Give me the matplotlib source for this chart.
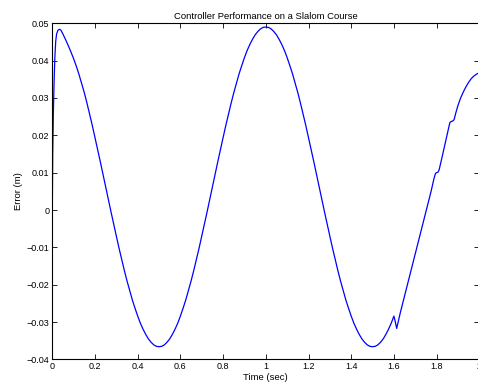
import matplotlib
matplotlib.use("Agg")
import matplotlib.pyplot as plt
from matplotlib.ticker import FixedLocator, FuncFormatter

plt.rcParams['font.family'] = ['Liberation Sans', 'DejaVu Sans']

# values
time_s = [
    # start-up transient
    0.000, 0.002, 0.005, 0.008, 0.012, 0.016, 0.020, 0.026, 0.033, 0.040, 0.050,
    # first descent
    0.0625, 0.0750, 0.0875, 0.1000, 0.1125, 0.1250, 0.1375,
    0.1500, 0.1625, 0.1750, 0.1875, 0.2000, 0.2125, 0.2250, 0.2375, 0.2500, 0.2625,
    0.2750, 0.2875, 0.3000, 0.3125, 0.3250, 0.3375, 0.3500, 0.3625, 0.3750, 0.3875,
    0.4000, 0.4125, 0.4250, 0.4375, 0.4500, 0.4625, 0.4750, 0.4875, 0.5000,
    # rise to second peak
    0.5125, 0.5250, 0.5375, 0.5500, 0.5625, 0.5750, 0.5875, 0.6000, 0.6125, 0.6250,
    0.6375, 0.6500, 0.6625, 0.6750, 0.6875, 0.7000, 0.7125, 0.7250, 0.7375, 0.7500,
    0.7625, 0.7750, 0.7875, 0.8000, 0.8125, 0.8250, 0.8375, 0.8500, 0.8625, 0.8750,
    0.8875, 0.9000, 0.9125, 0.9250, 0.9375, 0.9500, 0.9625, 0.9750, 0.9875, 1.0000,
    # second descent
    1.0125, 1.0250, 1.0375, 1.0500, 1.0625, 1.0750, 1.0875, 1.1000, 1.1125, 1.1250,
    1.1375, 1.1500, 1.1625, 1.1750, 1.1875, 1.2000, 1.2125, 1.2250, 1.2375, 1.2500,
    1.2625, 1.2750, 1.2875, 1.3000, 1.3125, 1.3250, 1.3375, 1.3500, 1.3625, 1.3750,
    1.3875, 1.4000, 1.4125, 1.4250, 1.4375, 1.4500, 1.4625, 1.4750, 1.4875, 1.5000,
    # final rise with disturbances
    1.5125, 1.5250, 1.5375, 1.5500, 1.5625, 1.5750, 1.5875, 1.6000, 1.6060, 1.6130,
    1.6200, 1.6300, 1.6500, 1.6750, 1.7000, 1.7250, 1.7500, 1.7750, 1.7880, 1.7950,
    1.8000, 1.8060, 1.8120, 1.8250, 1.8500, 1.8620, 1.8680, 1.8750, 1.8820, 1.8900,
    1.9000, 1.9125, 1.9250, 1.9375, 1.9500, 1.9625, 1.9750, 1.9875, 2.0000,
]
error_m = [
    0.0000, 0.0150, 0.0260, 0.0335, 0.0410, 0.0452, 0.0471, 0.0481, 0.0484, 0.0482, 0.0471,
    0.0456, 0.0440, 0.0423, 0.0405, 0.0385, 0.0363, 0.0339,
    0.0314, 0.0286, 0.0256, 0.0226, 0.0194, 0.0162, 0.0129, 0.0096, 0.0062, 0.0028,
    -0.0005, -0.0038, -0.0070, -0.0102, -0.0132, -0.0162, -0.0190, -0.0216, -0.0241, -0.0263,
    -0.0284, -0.0303, -0.0319, -0.0333, -0.0345, -0.0354, -0.0361, -0.0365, -0.0366,
    -0.0365, -0.0361, -0.0354, -0.0345, -0.0333, -0.0319, -0.0303, -0.0284, -0.0263, -0.0241,
    -0.0216, -0.0190, -0.0162, -0.0132, -0.0102, -0.0070, -0.0038, -0.0005, 0.0028, 0.0062,
    0.0096, 0.0129, 0.0162, 0.0194, 0.0226, 0.0256, 0.0286, 0.0314, 0.0340, 0.0365,
    0.0387, 0.0408, 0.0427, 0.0443, 0.0457, 0.0469, 0.0478, 0.0485, 0.0489, 0.0490,
    0.0489, 0.0485, 0.0478, 0.0469, 0.0457, 0.0443, 0.0427, 0.0408, 0.0387, 0.0365,
    0.0340, 0.0314, 0.0286, 0.0256, 0.0226, 0.0194, 0.0162, 0.0129, 0.0096, 0.0062,
    0.0028, -0.0005, -0.0038, -0.0070, -0.0102, -0.0132, -0.0162, -0.0190, -0.0216, -0.0241,
    -0.0263, -0.0284, -0.0303, -0.0319, -0.0333, -0.0345, -0.0354, -0.0361, -0.0365, -0.0366,
    -0.0365, -0.0361, -0.0354, -0.0345, -0.0333, -0.0319, -0.0303, -0.0284, -0.0298, -0.0317,
    -0.0300, -0.0275, -0.0230, -0.0174, -0.0118, -0.0062, -0.0006, 0.0052, 0.0085, 0.0098,
    0.0100, 0.0101, 0.0108, 0.0140, 0.0203, 0.0234, 0.0237, 0.0238, 0.0242, 0.0260,
    0.0280, 0.0300, 0.0316, 0.0330, 0.0342, 0.0352, 0.0359, 0.0364, 0.0368,
]

x_ticks = [0, 0.2, 0.4, 0.6, 0.8, 1.0, 1.2, 1.4, 1.6, 1.8, 2.0]
y_ticks = [-0.04, -0.03, -0.02, -0.01, 0, 0.01, 0.02, 0.03, 0.04, 0.05]

n = min(len(time_s), len(error_m))

fig = plt.figure(figsize=(4.78, 3.85), dpi=100)
ax = fig.add_axes([52.3 / 478, 25.6 / 385, 427.0 / 478, 336.1 / 385])
ax.plot(time_s[:n], error_m[:n], color='#0000ff', lw=0.9)
ax.set_xlim(0, 2)
ax.set_ylim(-0.04, 0.05)
ax.xaxis.set_major_locator(FixedLocator(x_ticks))
ax.yaxis.set_major_locator(FixedLocator(y_ticks))
fmt = FuncFormatter(lambda v, p: ('%g' % round(v, 4)).replace('-', '\u2212'))
ax.xaxis.set_major_formatter(fmt)
ax.yaxis.set_major_formatter(fmt)
ax.tick_params(direction='in', length=3.5, width=0.6, top=True, right=True,
               labelsize=6.5, pad=2, colors='black')
for s in ax.spines.values():
    s.set_linewidth(0.8)
ax.set_title('Controller Performance on a Slalom Course', fontsize=6.8, pad=3)
ax.set_xlabel('Time (sec)', fontsize=6.8, labelpad=1)
ax.set_ylabel('Error (m)', fontsize=6.8, labelpad=3)

fig.savefig('out.png', dpi=100)
